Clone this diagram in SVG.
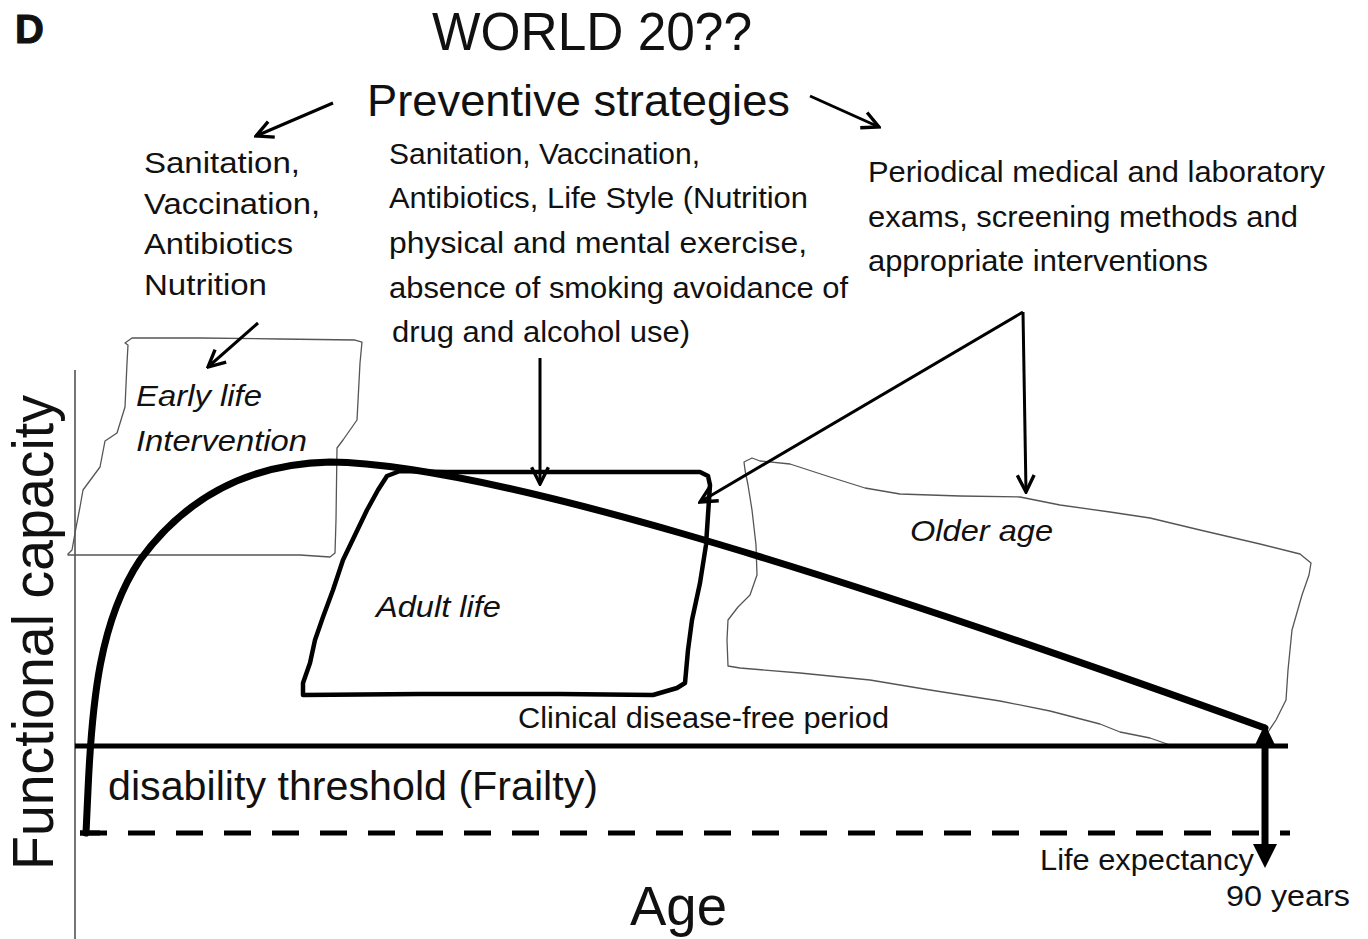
<svg xmlns="http://www.w3.org/2000/svg" width="1368" height="939" viewBox="0 0 1368 939">
<defs>
<style>
text{font-family:"Liberation Sans",Arial,sans-serif;fill:#111}
.it{font-style:italic}
.bold{font-family:"Liberation Sans","DejaVu Sans",Arial,sans-serif;font-weight:700;stroke:#111;stroke-width:1}
.thin{fill:none;stroke:#555;stroke-width:1.3;stroke-linejoin:round}
.thick{fill:none;stroke:#000;stroke-linejoin:round;stroke-linecap:round}
.arr{fill:none;stroke:#000;stroke-width:3;marker-end:url(#v)}
</style>
<marker id="v" viewBox="0 0 20 20" refX="18" refY="10" markerWidth="7" markerHeight="7" markerUnits="strokeWidth" orient="auto">
<path d="M2,2 L18,10 L2,18" fill="none" stroke="#000" stroke-width="3.2"/>
</marker>
</defs>
<rect width="1368" height="939" fill="#fff"/>

<g id="title">
<text class="bold" x="15" y="43" font-size="40">D</text>
<text x="432" y="50" font-size="53" textLength="320" lengthAdjust="spacingAndGlyphs">WORLD 20??</text>
<text x="367" y="116" font-size="45" textLength="423" lengthAdjust="spacingAndGlyphs">Preventive strategies</text>
</g>

<g id="left-strategies" font-size="30">
<text x="144" y="173" textLength="156" lengthAdjust="spacingAndGlyphs">Sanitation,</text>
<text x="144" y="214" textLength="176" lengthAdjust="spacingAndGlyphs">Vaccination,</text>
<text x="144" y="254" textLength="149" lengthAdjust="spacingAndGlyphs">Antibiotics</text>
<text x="144" y="295" textLength="123" lengthAdjust="spacingAndGlyphs">Nutrition</text>
</g>

<g id="middle-strategies" font-size="29">
<text x="389" y="164" textLength="311" lengthAdjust="spacingAndGlyphs">Sanitation, Vaccination,</text>
<text x="389" y="208" textLength="419" lengthAdjust="spacingAndGlyphs">Antibiotics, Life Style (Nutrition</text>
<text x="389" y="253" textLength="418" lengthAdjust="spacingAndGlyphs">physical and mental exercise,</text>
<text x="389" y="298" textLength="459" lengthAdjust="spacingAndGlyphs">absence of smoking avoidance of</text>
<text x="392" y="342" textLength="298" lengthAdjust="spacingAndGlyphs">drug and alcohol use)</text>
</g>

<g id="right-strategies" font-size="29">
<text x="868" y="182" textLength="457" lengthAdjust="spacingAndGlyphs">Periodical medical and laboratory</text>
<text x="868" y="227" textLength="430" lengthAdjust="spacingAndGlyphs">exams, screening methods and</text>
<text x="868" y="271" textLength="340" lengthAdjust="spacingAndGlyphs">appropriate interventions</text>
</g>

<g id="axes">
<line x1="75" y1="370" x2="75" y2="939" stroke="#666" stroke-width="1.8"/>
<text transform="translate(53,870) rotate(-90)" font-size="57" textLength="475" lengthAdjust="spacingAndGlyphs">Functional capacity</text>
<text x="630" y="925" font-size="55" textLength="97" lengthAdjust="spacingAndGlyphs">Age</text>
</g>

<g id="early-life">
<path class="thin" d="M68,554 L72,550 L75,533 L80,507 L83,490 L100,467 L105,441 L117,433 L125,407 L127,363 L128,345 L125,343 L132,338 L200,338 L280,339 L355,340 L362,342 L360,363 L357,420 L343,440 L337,448 L336,520 L335,553 L330,557 L300,555 L68,555 Z"/>
<text class="it" x="136" y="406" font-size="30" textLength="126" lengthAdjust="spacingAndGlyphs">Early life</text>
<text class="it" x="136" y="451" font-size="30" textLength="171" lengthAdjust="spacingAndGlyphs">Intervention</text>
</g>

<g id="older-age">
<path class="thin" d="M745,470 L744,462 L752,458 L760,461 L790,464 L830,477 L865,488 L900,494 L960,496 L1020,497 L1060,505 L1110,512 L1150,518 L1200,530 L1260,544 L1300,554 L1311,563 L1309,575 L1302,595 L1292,630 L1288,670 L1286,700 L1276,720 L1268,732 M1170,745 L1150,738 L1120,732 L1100,724 L1050,711 L1000,701 L930,690 L870,680 L800,673 L740,668 L728,666 L727,640 L728,620 L738,607 L750,595 L757,575 L756,545 L752,510 L748,485 L745,470"/>
<text class="it" x="910" y="541" font-size="30" textLength="143" lengthAdjust="spacingAndGlyphs">Older age</text>
</g>

<g id="adult-life">
<path class="thick" stroke-width="4.5" d="M387,476 L378,490 L367,510 L355,535 L343,560 L333,590 L323,617 L315,640 L310,663 L303,683 L303,695 L420,694 L560,694 L653,695 L677,688 L685,683 L688,650 L692,620 L700,583 L706,545 L708,515 L710,485 L708,476 L700,472 L600,472 L447,472 L400,471 Z"/>
<text class="it" x="376" y="617" font-size="30" textLength="125" lengthAdjust="spacingAndGlyphs">Adult life</text>
</g>

<g id="thresholds">
<line x1="75" y1="746" x2="1288" y2="746" stroke="#000" stroke-width="5"/>
<line x1="80" y1="833" x2="1290" y2="833" stroke="#000" stroke-width="5" stroke-dasharray="27 21"/>
<line x1="80" y1="833" x2="100" y2="833" stroke="#000" stroke-width="5"/>
<text x="518" y="728" font-size="29" textLength="371" lengthAdjust="spacingAndGlyphs">Clinical disease-free period</text>
<text x="108" y="800" font-size="41" textLength="490" lengthAdjust="spacingAndGlyphs">disability threshold (Frailty)</text>
<text x="1040" y="870" font-size="29" textLength="214" lengthAdjust="spacingAndGlyphs">Life expectancy</text>
<text x="1226" y="906" font-size="30" textLength="124" lengthAdjust="spacingAndGlyphs">90 years</text>
</g>

<g id="curve">
<path class="thick" stroke-width="7" d="M86,833 L88,790 C92,700 100,620 140,560 C180,505 240,464 330,462 C480,464 800,560 1265,728"/>
</g>

<g id="connectors">
<line class="arr" x1="333" y1="103" x2="256" y2="136"/>
<line class="arr" x1="810" y1="96" x2="879" y2="127"/>
<line class="arr" x1="258" y1="323" x2="208" y2="367"/>
<line class="arr" x1="540" y1="358" x2="540" y2="484"/>
<polyline fill="none" stroke="#000" stroke-width="3" points="1023,312 1026,492" marker-end="url(#v)"/>
<line class="arr" x1="1023" y1="312" x2="700" y2="502"/>
<line x1="1265" y1="742" x2="1265" y2="850" stroke="#000" stroke-width="7"/>
<polygon points="1265,724 1255,745 1275,745" fill="#000"/>
<polygon points="1265,868 1253,844 1277,844" fill="#000"/>
</g>
</svg>
